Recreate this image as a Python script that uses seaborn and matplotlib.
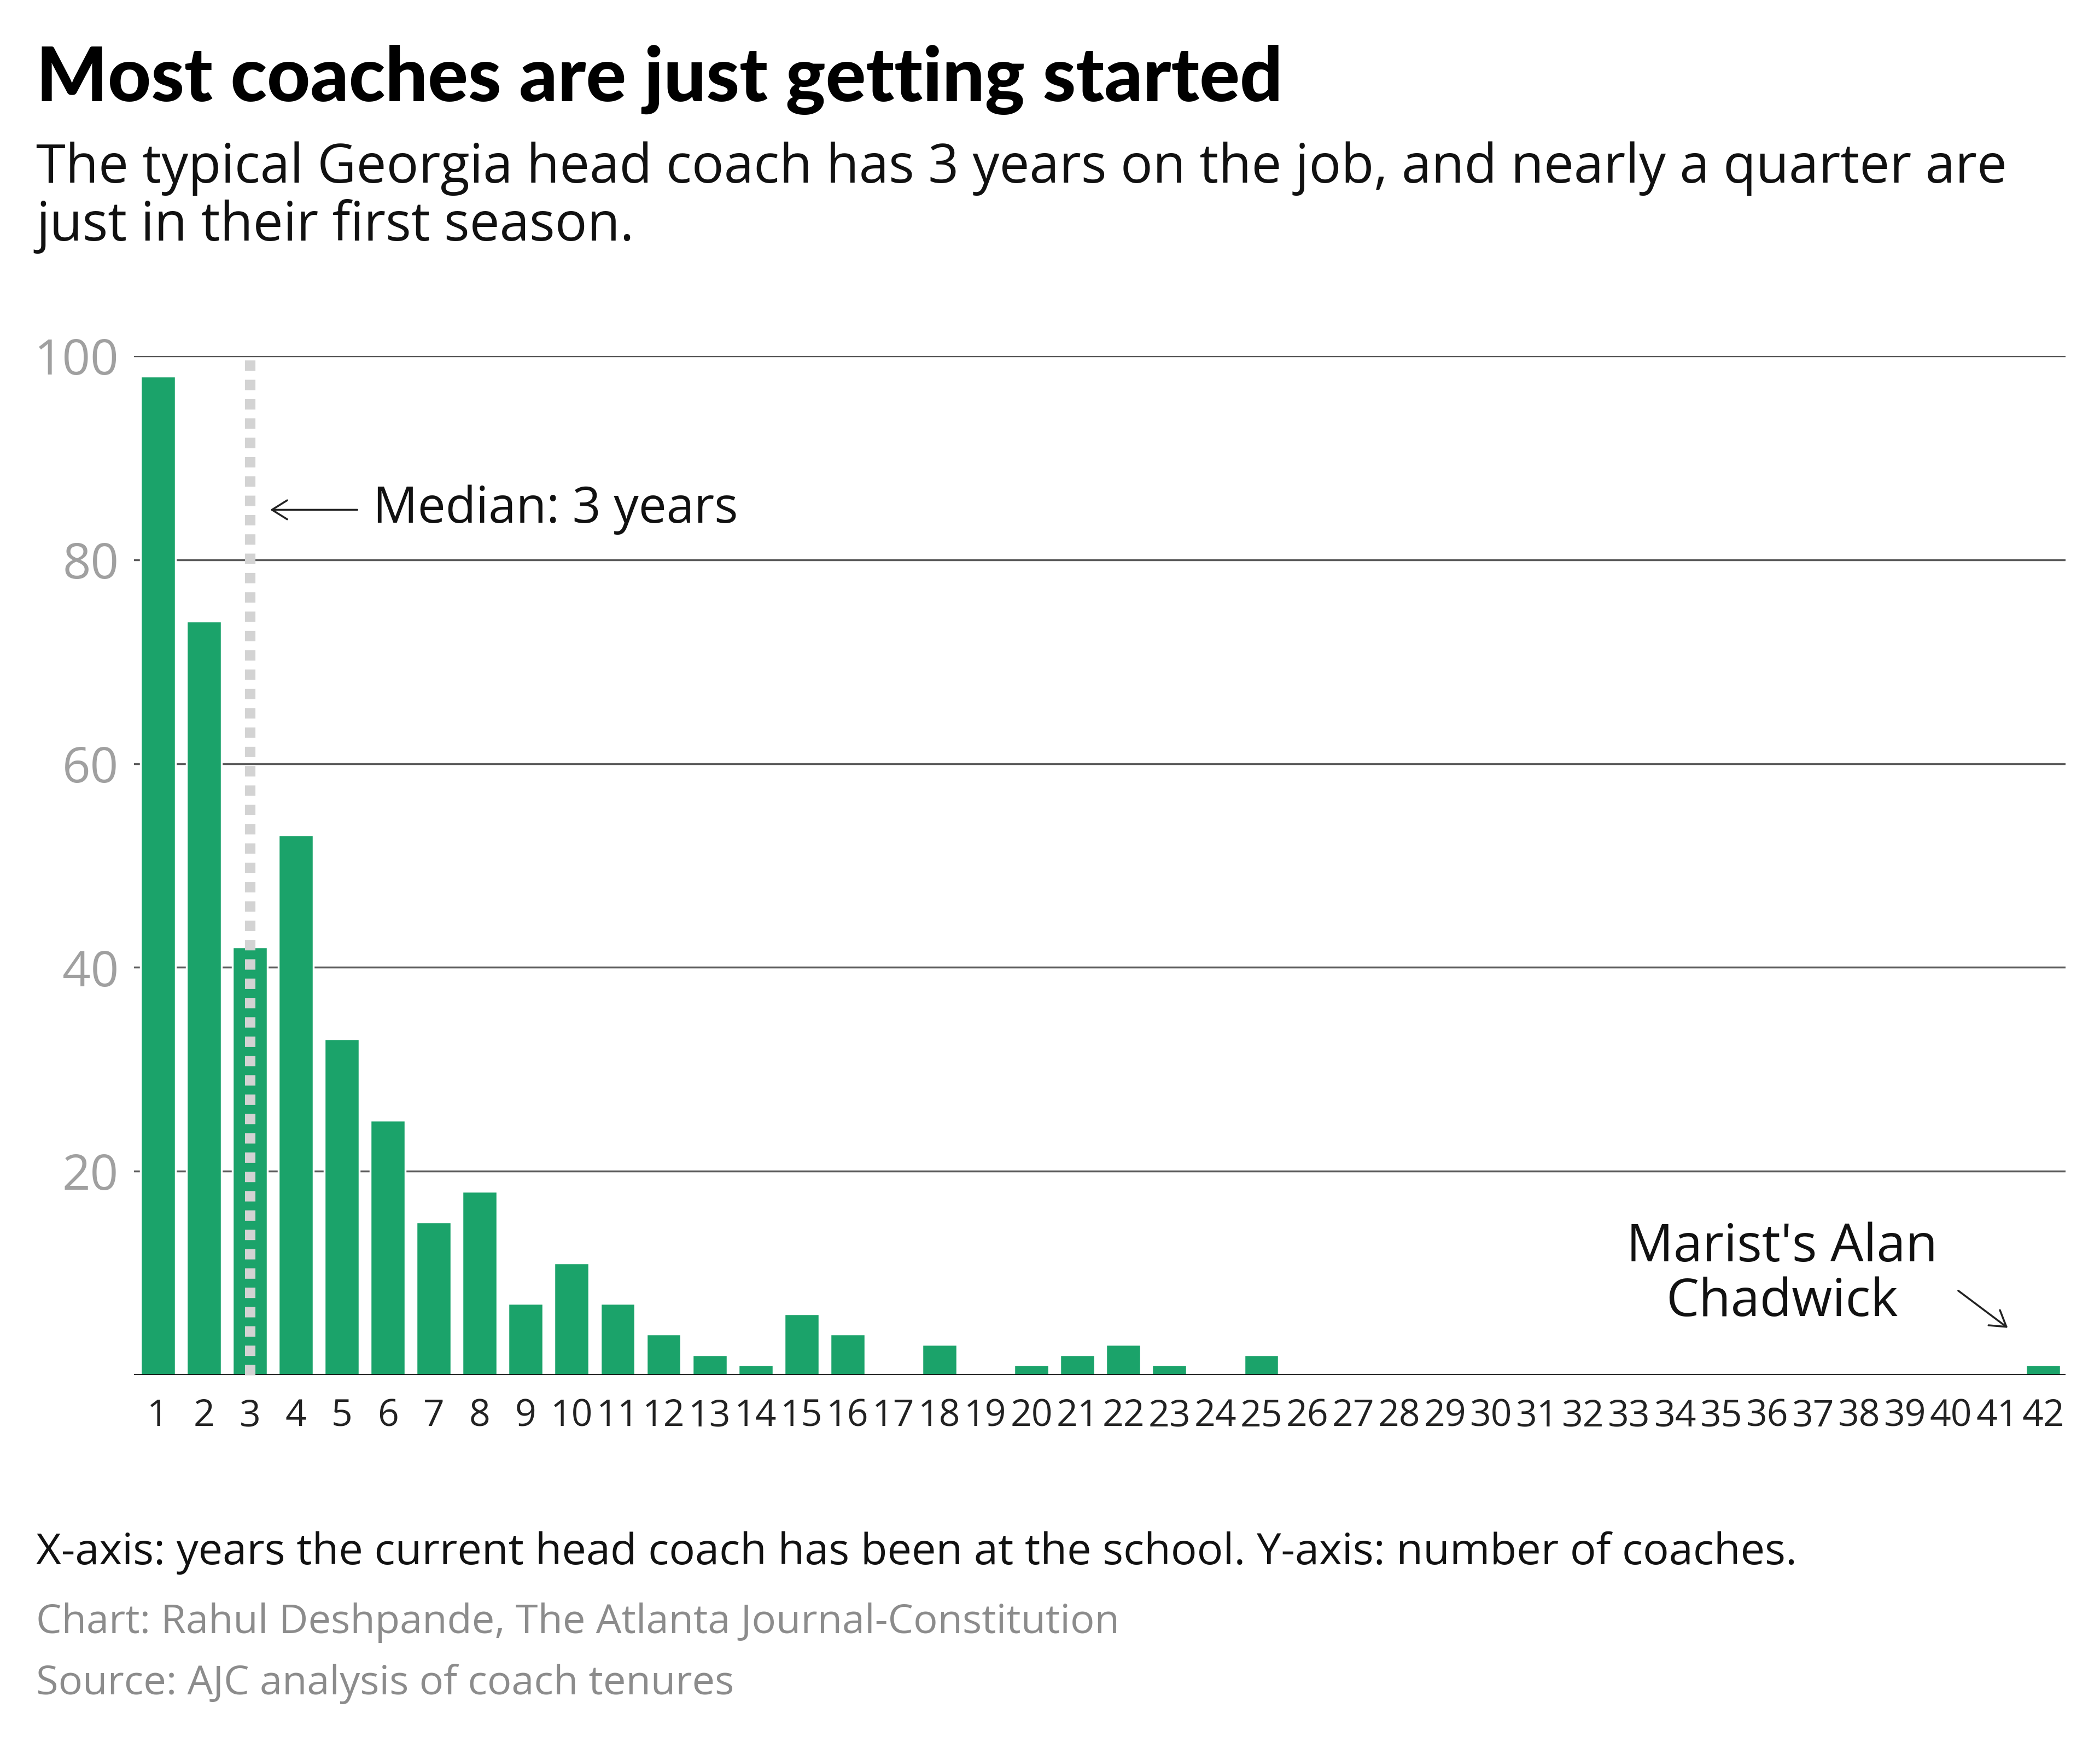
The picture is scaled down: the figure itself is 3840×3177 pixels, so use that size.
import matplotlib
matplotlib.use("Agg")
import matplotlib.pyplot as plt
import pandas as pd
import seaborn as sns

# years at the school (1..42) and how many coaches have that tenure
years = list(range(1, 43))
coaches = [98, 74, 42, 53, 33, 25, 15, 18, 7, 11, 7, 4, 2, 1, 6, 4, 0, 3, 0, 1,
           2, 3, 1, 0, 2, 0, 0, 0, 0, 0, 0, 0, 0, 0, 0, 0, 0, 0, 0, 0, 0, 1]
y_ticks = [20, 40, 60, 80, 100]
median_year = 3

GREEN = "#1ba36a"
BODY = ["Open Sans", "DejaVu Sans"]

sns.set_theme(style="white")
plt.rcParams["font.family"] = BODY

df = pd.DataFrame({"year": [str(y) for y in years], "coaches": coaches})

fig = plt.figure(figsize=(15.36, 12.708), dpi=250)
ax = fig.add_axes([0.0638, 0.2084, 0.9198, 0.5867])

sns.barplot(data=df, x="year", y="coaches", color=GREEN, saturation=1,
            width=0.76, ax=ax, zorder=2)

ax.set_xlim(-0.52, len(years) - 0.51)
ax.set_ylim(0, 100)
ax.set_yticks(y_ticks)
ax.set_xlabel("")
ax.set_ylabel("")
for s in ax.spines.values():
    s.set_visible(False)
ax.set_axisbelow(True)
ax.yaxis.grid(True, color="#5a5a5a", lw=1.0)
ax.axhline(0, color="#111111", lw=1.3, zorder=4)

ax.tick_params(axis="x", length=0, pad=12, labelsize=19.5, labelcolor="#222222")
ax.tick_params(axis="y", length=0, pad=8, labelsize=26, labelcolor="#a0a0a0")

# median marker
mpos = years.index(median_year)
ax.plot([mpos, mpos], [0, 100], color="#d3d3d3", lw=5.5,
        linestyle=(0, (1, 0.85)), zorder=5, clip_on=False)
ax.annotate("", xy=(2.36, 84.9), xytext=(4.42, 84.9),
            arrowprops=dict(arrowstyle="->,head_length=0.4,head_width=0.25",
                            lw=1.0, color="#222222", mutation_scale=20))
ax.text(4.68, 84.9, "Median: 3 years", ha="left", va="center",
        fontsize=26.2, color="#111111")

# outlier note
ax.text(35.32, 9.8, "Marist's Alan\nChadwick", ha="center", va="center",
        fontsize=27.5, color="#111111", linespacing=1.05)
ax.annotate("", xy=(40.30, 4.4), xytext=(39.09, 8.5),
            arrowprops=dict(arrowstyle="->,head_length=0.4,head_width=0.25",
                            lw=1.0, color="#222222", mutation_scale=20))

# header
fig.text(0.0172, 0.9418, "Most coaches are just getting started",
         fontsize=39.6, fontweight="black", color="#000000", va="baseline",
         family=["Lato", "DejaVu Sans"])
fig.text(0.0172, 0.8949,
         "The typical Georgia head coach has 3 years on the job, and nearly a quarter are",
         fontsize=28.2, color="#111111", va="baseline")
fig.text(0.0172, 0.8615, "just in their first season.",
         fontsize=28.2, color="#111111", va="baseline")

# footer
fig.text(0.0172, 0.0996,
         "X-axis: years the current head coach has been at the school. Y-axis: number of coaches.",
         fontsize=22.9, color="#111111", va="baseline")
fig.text(0.0172, 0.0599, "Chart: Rahul Deshpande, The Atlanta Journal-Constitution",
         fontsize=21.3, color="#8c8c8c", va="baseline")
fig.text(0.0172, 0.0246, "Source: AJC analysis of coach tenures",
         fontsize=21.3, color="#8c8c8c", va="baseline")

fig.savefig("out.png", dpi=250, facecolor="white")
